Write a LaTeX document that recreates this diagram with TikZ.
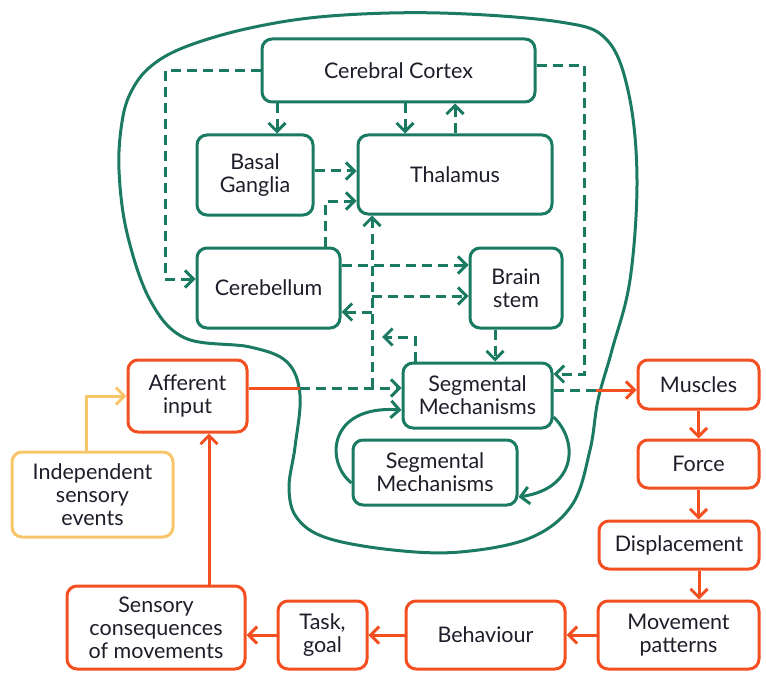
\documentclass[tikz,border=0pt]{standalone}
\usepackage{fontspec}
\setmainfont{Lato}
\usetikzlibrary{arrows.meta,calc}
\definecolor{brgreen}{HTML}{1B7A62}
\definecolor{mvred}{HTML}{F34F21}
\definecolor{evyellow}{HTML}{F8C66A}
\definecolor{txt}{HTML}{1E1E2A}

\begin{document}
\begin{tikzpicture}[x=1pt,y=-1pt,line width=3pt,
  tip/.style={-{Straight Barb[length=8.5pt,width=17pt]}},
  box/.style={draw,rounded corners=10pt,fill=white,inner sep=0pt,align=center,
    text=txt,font=\fontsize{21.5}{23}\selectfont},
  gbox/.style={box,draw=brgreen},
  rbox/.style={box,draw=mvred},
  ybox/.style={box,draw=evyellow},
  gd/.style={draw=brgreen,dash pattern=on 10pt off 6pt,tip},
  gs/.style={draw=brgreen,tip},
  rs/.style={draw=mvred,tip},
  ys/.style={draw=evyellow,tip},
]
\useasboundingbox (0,0) rectangle (766,674);

% outline of the central nervous system
\draw[brgreen] plot[smooth cycle,tension=0.6] coordinates {
  (330,16) (440,13) (560,22) (607,40) (629,95) (637,180) (630,280)
  (612,350) (598,400) (590,450) (572,505) (530,538) (460,552) (393,550)
  (327,538) (297,518) (289,488) (295,447) (300,395) (287,362) (250,347)
  (185,338) (150,300) (127,233) (119,170) (122,122) (131,92) (150,67)
  (185,47) (250,28)};

% central structures
\node[gbox,minimum width=273pt,minimum height=63pt] (cc) at (398.5,70.5) {Cerebral Cortex};
\node[gbox,minimum width=116pt,minimum height=80pt] (bg) at (255,175) {Basal\\Ganglia};
\node[gbox,minimum width=194pt,minimum height=79pt] (th) at (455,174.5) {Thalamus};
\node[gbox,minimum width=143pt,minimum height=80pt] (cb) at (268.5,288) {Cerebellum};
\node[gbox,minimum width=92pt,minimum height=80pt] (bs) at (516,288) {Brain\\stem};
\node[gbox,minimum width=149pt,minimum height=65pt] (sm1) at (477.5,395.5) {Segmental\\Mechanisms};
\node[gbox,minimum width=164pt,minimum height=65pt] (sm2) at (435,472.5) {Segmental\\Mechanisms};

% periphery
\node[rbox,minimum width=119pt,minimum height=72pt] (ai) at (187.5,396) {Afferent\\input};
\node[ybox,minimum width=161pt,minimum height=85pt] (ise) at (92.5,494.5) {Independent\\sensory\\events};
\node[rbox,minimum width=121pt,minimum height=49pt] (mu) at (698.5,384.5) {Muscles};
\node[rbox,minimum width=121pt,minimum height=48pt] (fo) at (698.5,464) {Force};
\node[rbox,minimum width=160pt,minimum height=48pt] (di) at (679,545) {Displacement};
\node[rbox,minimum width=161pt,minimum height=68pt] (mp) at (678.5,635) {Movement\\patterns};
\node[rbox,minimum width=159pt,minimum height=68pt] (be) at (485.5,635) {Behaviour};
\node[rbox,minimum width=89pt,minimum height=68pt] (tg) at (322.5,635) {Task,\\goal};
\node[rbox,minimum width=178pt,minimum height=83pt] (sc) at (156,627.5) {Sensory\\consequences\\of movements};

% junction points on the pathways
\coordinate (aicross) at (300,388);
\coordinate (smcross) at (596,390);
\coordinate (trunk) at (372,388);
\coordinate (smup) at (382,337);

% cortical and subcortical pathways
\draw[gd] (cc.west) -| (165,279) -- (cb.west |- 0,279);
\draw[gd] (cc.south -| 277,0) -- (bg.north -| 277,0);
\draw[gd] (cc.south -| 405,0) -- (th.north -| 405,0);
\draw[gd] (th.north -| 455,0) -- (cc.south -| 455,0);
\draw[gd] (cc.east |- 0,66) -- (584,66) -- (584,374) -- (sm1.east |- 0,374);
\draw[gd] (bg.east |- 0,171) -- (th.west |- 0,171);
\draw[gd] (cb.north -| 325,0) -- (325,201) -- (th.west |- 0,201);
\draw[gd] (cb.east |- 0,265) -- (bs.west |- 0,265);
\draw[gd] (trunk) -- (th.south -| trunk);
\draw[gd] (372,296) -- (bs.west |- 0,296);
\draw[gd] (372,312) -- (cb.east |- 0,312);
\draw[gd] (sm1.north -| 415,0) -- (415,337) -- (smup);
\draw[gd] (bs.south -| 495,0) -- (sm1.north -| 495,0);

% afferent and efferent lines
\draw[mvred] (ai.east |- aicross) -- (aicross);
\draw[gd] (aicross) -- (sm1.west |- aicross);
\draw[brgreen,dash pattern=on 10pt off 6pt] (sm1.east |- smcross) -- (smcross);
\draw[rs] (smcross) -- (mu.west |- smcross);

% segmental loops
\draw[gs] (sm1.east |- 0,417) .. controls (578,440) and (578,488) .. (sm2.east |- 0,497);
\draw[gs] (sm2.west |- 0,483) .. controls (325,462) and (328,405) .. (sm1.west |- 0,410);

% movement chain
\draw[rs] (mu.south) -- (fo.north);
\draw[rs] (fo.south) -- (di.north -| fo.south);
\draw[rs] (di.south -| 699,0) -- (mp.north -| 699,0);
\draw[rs] (mp.west) -- (be.east);
\draw[rs] (be.west) -- (tg.east);
\draw[rs] (tg.west) -- (sc.east |- tg.west);
\draw[rs] (sc.north -| 209,0) -- (ai.south -| 209,0);
\draw[ys] (ise.north -| 86,0) |- (ai.west);
\end{tikzpicture}
\end{document}
